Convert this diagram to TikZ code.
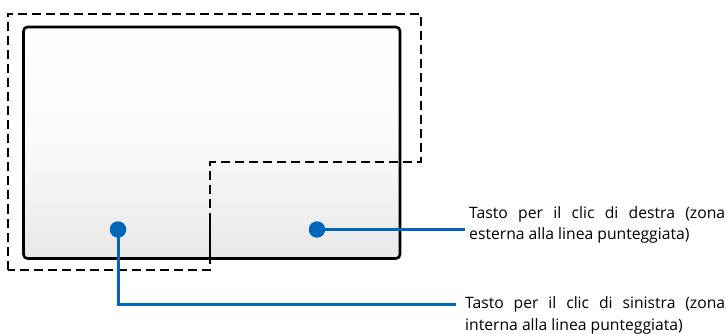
\documentclass[tikz,border=0pt]{standalone}
\usepackage{fontspec}
\setmainfont{Open Sans}
\definecolor{dotblue}{HTML}{0067B8}
\begin{document}
\begin{tikzpicture}[x=1pt, y=-1pt, line cap=butt, line join=miter, font=\fontsize{15.7}{21.8}\selectfont,
		zone/.style={dashed, dash pattern=on 9pt off 5pt, line width=2pt},
		pad/.style={rounded corners=4pt, line width=2.6pt},
		dot/.style={circle, fill=dotblue, inner sep=0pt, minimum size=16.5pt},
		lead/.style={dotblue, line width=3pt},
		callout/.style={anchor=base west, align=left, inner sep=0pt}]
			\useasboundingbox (0,0) rectangle (726,334);
			% touchpad surface
			\shade[rounded corners=4pt, top color=white, bottom color=black!9, middle color=black!2, shading angle=0] (23.5,27) rectangle (400,258.5);
			\draw[pad] (23.5,27) rectangle (400,258.5);
			\draw[line width=2.4pt] (210,222) -- (210,258.5);
			% dashed zone of the left click
			\draw[zone] (7.5,269.5) -- (7.5,14) -- (420.5,14) -- (420.5,162.5) -- (210,162.5) -- (210,269.5) -- cycle;
			% dots and callouts
			\node[dot] (ldot) at (118,229.5) {};
			\node[dot] (rdot) at (317,229.5) {};
			\coordinate (rend) at (465,229.5);
			\coordinate (lend) at (456,304.5);
			\node[callout] (rtext) at (469,240) {\makebox[256pt][s]{Tasto per il clic di destra (zona}\\esterna alla linea punteggiata)};
			\node[callout] (ltext) at (465,330.5) {\makebox[260pt][s]{Tasto per il clic di sinistra (zona}\\interna alla linea punteggiata)};
			\draw[lead] (rdot.center) -- (rend);
			\draw[lead] (ldot.center) |- (lend);
		\end{tikzpicture}
\end{document}
